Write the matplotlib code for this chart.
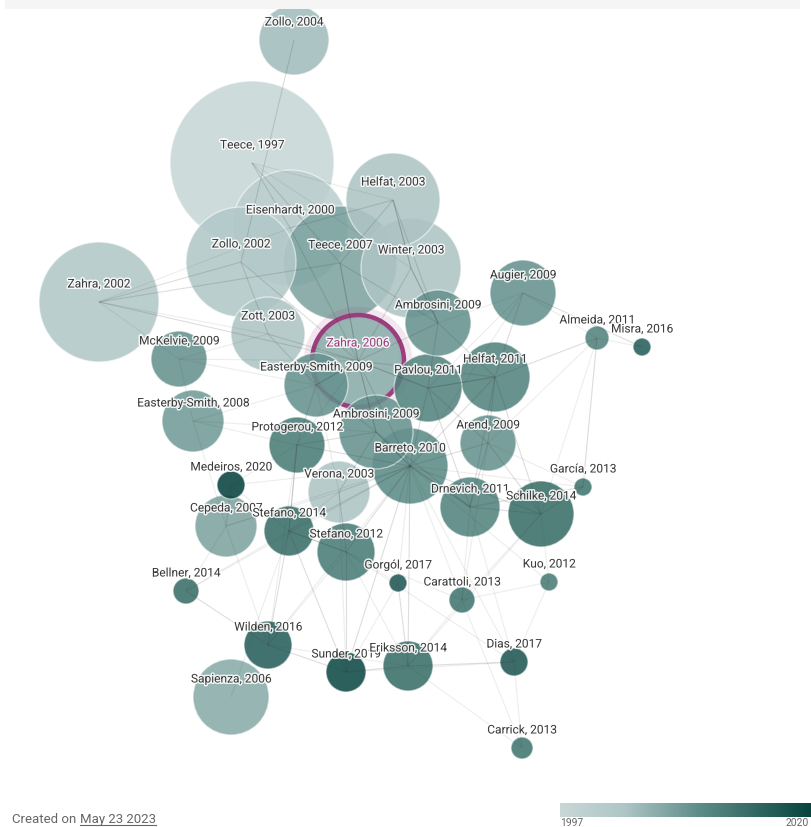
import numpy as np
import matplotlib.pyplot as plt
import matplotlib.patheffects as pe
from matplotlib.patches import Circle, Rectangle
from matplotlib.lines import Line2D
from matplotlib.colors import LinearSegmentedColormap, Normalize
from matplotlib.cm import ScalarMappable

plt.rcParams['font.family'] = ['Roboto', 'DejaVu Sans']

# papers: label, year, layout position (graph units), node size
names = ["Zahra, 2006", "Teece, 1997", "Zollo, 2004", "Eisenhardt, 2000", "Zahra, 2002",
         "Zollo, 2002", "Teece, 2007", "Winter, 2003", "Helfat, 2003", "Zott, 2003",
         "Ambrosini, 2009", "Augier, 2009", "Almeida, 2011", "Misra, 2016", "McKelvie, 2009",
         "Easterby-Smith, 2009", "Pavlou, 2011", "Helfat, 2011", "Easterby-Smith, 2008",
         "Ambrosini, 2009", "Protogerou, 2012", "Arend, 2009", "Barreto, 2010", "Medeiros, 2020",
         "Verona, 2003", "García, 2013", "Drnevich, 2011", "Schilke, 2014", "Cepeda, 2007",
         "Stefano, 2014", "Stefano, 2012", "Gorgól, 2017", "Kuo, 2012", "Carattoli, 2013",
         "Bellner, 2014", "Wilden, 2016", "Sunder, 2019", "Eriksson, 2014", "Dias, 2017",
         "Sapienza, 2006", "Carrick, 2013"]
years = [2006, 1997, 2004, 2000, 2002, 2002, 2007, 2003, 2003, 2003,
         2009, 2009, 2011, 2016, 2009, 2009, 2011, 2011, 2008, 2009,
         2012, 2009, 2010, 2020, 2003, 2013, 2011, 2014, 2007, 2014,
         2012, 2017, 2012, 2013, 2014, 2016, 2019, 2014, 2017, 2006, 2013]
pos_x = [358, 252, 294, 290, 99, 241, 340, 411, 393, 268,
         438, 523, 597, 642, 179, 316, 428, 495, 193, 376,
         297, 488, 410, 231, 339, 583, 470, 541, 226, 289,
         346, 398, 549, 462, 186, 268, 346, 408, 514, 231, 522]
pos_y = [361, 163, 40, 228, 302, 262, 263, 268, 200, 334,
         323, 293, 338, 347, 359, 385, 388, 377, 421, 432,
         445, 443, 466, 485, 492, 487, 507, 514, 526, 531,
         552, 583, 582, 600, 591, 645, 672, 666, 662, 697, 748]
node_r = [46, 82, 35, 58, 60, 55, 57, 50, 47, 37,
          33, 33, 12, 9, 28, 32, 34, 35, 31, 37,
          28, 28, 38, 14, 31, 9, 30, 33, 31, 25,
          29, 9, 9, 13, 13, 24, 20, 25, 14, 38, 11]
focus = 0

# similarity links (node a, node b, strength 1..3)
edges = [(2, 5, 2), (1, 3, 2), (1, 6, 2), (1, 8, 1), (1, 7, 1), (8, 7, 3), (8, 6, 2),
         (8, 3, 2), (4, 5, 2), (4, 6, 2), (4, 3, 1), (4, 0, 2), (4, 9, 1), (4, 14, 1),
         (7, 10, 3), (6, 0, 3), (7, 0, 2), (10, 0, 2), (10, 16, 2), (10, 17, 2),
         (10, 11, 1), (11, 17, 2), (11, 12, 1), (11, 13, 2), (12, 13, 1), (12, 17, 2),
         (15, 0, 3), (16, 0, 3), (19, 0, 3), (15, 19, 2), (16, 17, 3), (16, 22, 2),
         (19, 22, 3), (17, 22, 2), (17, 21, 2), (17, 26, 2), (17, 27, 2), (22, 21, 2),
         (22, 26, 3), (22, 24, 2), (22, 20, 2), (22, 30, 2), (22, 29, 2), (22, 31, 1),
         (22, 36, 2), (22, 37, 2), (22, 33, 1), (22, 35, 1), (22, 28, 1), (22, 27, 2),
         (22, 38, 1), (20, 29, 3), (20, 15, 2), (20, 18, 1), (14, 18, 1), (14, 9, 1),
         (14, 0, 1), (14, 15, 1), (18, 28, 1), (23, 22, 1), (23, 28, 2), (23, 20, 1),
         (29, 30, 3), (29, 34, 1), (29, 35, 2), (28, 34, 1), (34, 35, 2), (35, 36, 2),
         (35, 37, 1), (36, 37, 2), (37, 38, 2), (33, 32, 1), (33, 37, 1), (32, 38, 1),
         (38, 40, 1), (25, 26, 2), (25, 27, 2), (25, 21, 1), (25, 12, 1), (26, 27, 2),
         (21, 26, 2), (30, 36, 2), (30, 35, 1), (31, 37, 2), (31, 36, 1), (30, 24, 2),
         (39, 29, 1), (40, 33, 1), (40, 37, 1), (9, 0, 2), (9, 15, 2), (5, 9, 2),
         (3, 0, 2), (5, 0, 2), (8, 10, 2), (6, 10, 2), (0, 22, 2), (0, 20, 1),
         (0, 17, 2), (19, 20, 2), (19, 24, 2), (19, 26, 2), (16, 21, 2), (16, 26, 2),
         (22, 34, 1), (22, 32, 1), (22, 25, 1), (12, 25, 1), (12, 21, 1), (12, 27, 1),
         (11, 16, 1), (11, 22, 1), (24, 28, 1), (24, 29, 1), (24, 15, 1), (26, 33, 1),
         (26, 38, 1), (27, 33, 1), (27, 37, 1), (30, 37, 1), (29, 36, 2), (28, 35, 1),
         (21, 33, 1), (21, 27, 2), (36, 38, 1), (18, 15, 1), (18, 19, 1), (23, 29, 1),
         (31, 30, 1), (32, 27, 1), (24, 36, 1), (20, 35, 1), (38, 30, 1), (33, 30, 1)]

cmap = LinearSegmentedColormap.from_list(
    'cp', [(0, '#c8d6d6'), (0.25, '#afc6c6'), (0.55, '#5e8d89'), (1, '#07433e')])
norm = Normalize(1997, 2020)

fig = plt.figure(figsize=(8.11, 8.27), dpi=100)
ax = fig.add_axes([0, 0, 1, 1])
ax.set_xlim(0, 811)
ax.set_ylim(827, 0)
ax.axis('off')

# nodes, biggest first
order = np.argsort(-np.array(node_r), kind='stable')
for k, i in enumerate(order):
    z = 2 + k * 0.01
    fc = cmap(norm(years[i]))
    ax.add_patch(Circle((pos_x[i], pos_y[i]), node_r[i],
                        facecolor=(fc[0], fc[1], fc[2], 0.88),
                        edgecolor=(1, 1, 1, 0.55), lw=1.0, zorder=z))
    if i == focus:
        ax.add_patch(Circle((pos_x[i], pos_y[i]), node_r[i] + 2, fill=False,
                            edgecolor='#a0407f', lw=9, alpha=0.12, zorder=z - 0.005))
        ax.add_patch(Circle((pos_x[i], pos_y[i]), node_r[i], fill=False,
                            edgecolor='#9c3d7d', lw=3.2, zorder=z + 0.001))

# edges on top, semi transparent
alphas = {1: 0.09, 2: 0.17, 3: 0.3}
for a, b, w in edges:
    ax.plot([pos_x[a], pos_x[b]], [pos_y[a], pos_y[b]], color='#3c3c3c',
            lw=0.8, alpha=alphas[w], zorder=3, solid_capstyle='butt')

halo = [pe.withStroke(linewidth=2.2, foreground='white', alpha=0.85)]
for i, nm in enumerate(names):
    col = '#9c3d7d' if i == focus else '#3b3b3b'
    ax.text(pos_x[i], pos_y[i] - 18, nm, ha='center', va='center', fontsize=8.6,
            color=col, path_effects=halo, zorder=6)

# top strip
ax.add_patch(Rectangle((5, 0), 795, 9, facecolor='#f5f5f5', edgecolor='none', zorder=10))

# footer
renderer = fig.canvas.get_renderer()
t1 = fig.text(12 / 811, 1 - 826 / 827, 'Created on ', fontsize=9.5, color='#666666',
              ha='left', va='bottom')
bb = t1.get_window_extent(renderer)
t2 = fig.text(bb.x1 / fig.bbox.width, 1 - 826 / 827, 'May 23 2023', fontsize=9.5,
              color='#666666', ha='left', va='bottom')
bb2 = t2.get_window_extent(renderer)
uy = (bb2.y0 + 1.5) / fig.bbox.height
fig.add_artist(Line2D([bb2.x0 / fig.bbox.width, bb2.x1 / fig.bbox.width], [uy, uy],
                      color='#666666', lw=0.8))

cax = fig.add_axes([560 / 811, 1 - 817 / 827, 1 - 560 / 811, 14 / 827])
cb = fig.colorbar(ScalarMappable(norm=norm, cmap=cmap), cax=cax, orientation='horizontal')
cb.outline.set_visible(False)
cax.set_xticks([])
fig.text(560 / 811, 1 - 828 / 827, '1997', fontsize=7.5, color='#666666', ha='left', va='bottom')
fig.text(809 / 811, 1 - 828 / 827, '2020', fontsize=7.5, color='#666666', ha='right', va='bottom')

fig.savefig('out.png', dpi=100, facecolor='white')
